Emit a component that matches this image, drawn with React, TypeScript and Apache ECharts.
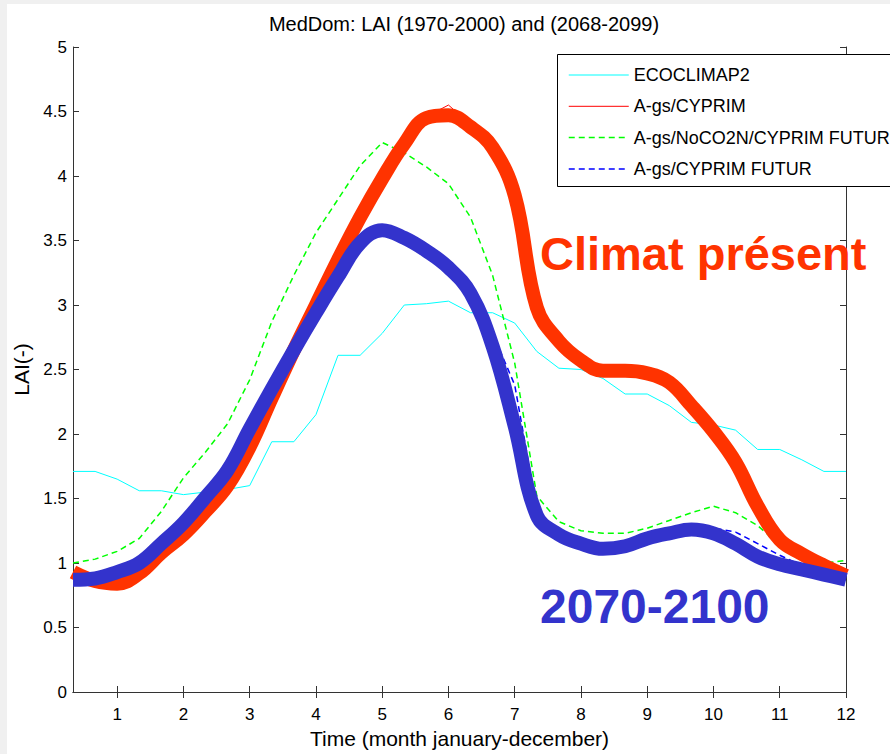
import React, { useEffect, useRef } from "react";
import * as echarts from "echarts";

// Time axis: 36 ten-day periods (month fractions 1/3 ... 12)
const TIME: number[] = Array.from({ length: 36 }, (_, i) => (i + 1) / 3);
const MONTH_TICKS = [1, 2, 3, 4, 5, 6, 7, 8, 9, 10, 11, 12];

const ECOCLIMAP2 = [
  1.71, 1.71, 1.65, 1.56, 1.56, 1.53, 1.55, 1.57, 1.6, 1.94, 1.94, 2.15,
  2.61, 2.61, 2.78, 3.0, 3.01, 3.03, 2.94, 2.94, 2.86, 2.64, 2.51, 2.5,
  2.43, 2.31, 2.31, 2.22, 2.09, 2.07, 2.03, 1.88, 1.88, 1.8, 1.71, 1.71,
];
const AGS_CYPRIM = [
  0.93, 0.86, 0.84, 0.92, 1.08, 1.22, 1.4, 1.6, 1.9, 2.28, 2.65, 3.0,
  3.35, 3.68, 3.98, 4.25, 4.46, 4.55, 4.4, 4.22, 3.85, 2.98, 2.72, 2.57,
  2.49, 2.49, 2.47, 2.4, 2.22, 2.02, 1.78, 1.44, 1.18, 1.07, 0.98, 0.9,
];
const AGS_NOCO2N_FUTUR = [
  1.0, 1.03, 1.09, 1.19, 1.4, 1.66, 1.86, 2.08, 2.42, 2.87, 3.23, 3.56,
  3.82, 4.08, 4.26, 4.18, 4.07, 3.94, 3.68, 3.23, 2.55, 1.52, 1.32, 1.25,
  1.23, 1.23, 1.27, 1.33, 1.39, 1.44, 1.39, 1.29, 1.14, 1.03, 1.0, 1.02,
];
const AGS_CYPRIM_FUTUR = [
  0.87, 0.88, 0.93, 1.0, 1.15, 1.31, 1.51, 1.72, 2.04, 2.35, 2.65, 2.94,
  3.22, 3.48, 3.58, 3.52, 3.42, 3.29, 3.09, 2.78, 2.38, 1.42, 1.22, 1.15,
  1.11, 1.13, 1.19, 1.23, 1.26, 1.27, 1.24, 1.15, 1.06, 0.98, 0.91, 0.87,
];
// Hand-drawn highlight strokes over the two A-gs/CYPRIM runs
const PRESENT_HIGHLIGHT = [
  0.93, 0.86, 0.84, 0.92, 1.08, 1.22, 1.4, 1.6, 1.9, 2.28, 2.65, 3.0,
  3.35, 3.68, 3.98, 4.25, 4.45, 4.47, 4.38, 4.22, 3.85, 2.98, 2.72, 2.57,
  2.49, 2.49, 2.47, 2.4, 2.22, 2.02, 1.78, 1.44, 1.18, 1.07, 0.98, 0.9,
];
const FUTURE_HIGHLIGHT = [
  0.87, 0.88, 0.93, 1.0, 1.15, 1.31, 1.51, 1.72, 2.04, 2.35, 2.65, 2.94,
  3.22, 3.48, 3.58, 3.52, 3.42, 3.29, 3.09, 2.68, 2.06, 1.37, 1.22, 1.15,
  1.11, 1.13, 1.19, 1.23, 1.26, 1.23, 1.15, 1.05, 0.99, 0.95, 0.91, 0.87,
];

const FONT = "'Liberation Sans', Arial, Helvetica, sans-serif";
const pairs = (vals: number[]) => TIME.map((t, i) => [t, vals[i]]);

export default function App() {
  const ref = useRef<HTMLDivElement>(null);
  useEffect(() => {
    document.body.style.margin = "0";
    const chart = echarts.init(ref.current!, null, { renderer: "svg" });
    const axisColor = "#333";
    const tickLen = 6;
    chart.setOption({
      animation: false,
      backgroundColor: "#fff",
      textStyle: { fontFamily: FONT },
      title: {
        text: "MedDom: LAI (1970-2000) and (2068-2099)",
        left: 459,
        textAlign: "center",
        top: 9,
        textStyle: { fontSize: 20, fontWeight: "normal", color: "#000", fontFamily: FONT },
      },
      grid: { left: 73, right: 44, top: 47, bottom: 62, containLabel: false },
      legend: {
        data: ["ECOCLIMAP2", "A-gs/CYPRIM", "A-gs/NoCO2N/CYPRIM FUTUR", "A-gs/CYPRIM FUTUR"],
        orient: "vertical",
        left: 568,
        top: 66,
        padding: 0,
        itemWidth: 60,
        itemHeight: 18,
        itemGap: 13.3,
        z: 6,
        itemStyle: { opacity: 0 },
        lineStyle: { width: "inherit" },
        textStyle: { fontSize: 18, color: "#000", fontFamily: FONT, lineHeight: 18 },
        selectedMode: false,
      },
      xAxis: [
        {
          type: "value",
          min: 1 / 3,
          max: 12,
          splitLine: { show: false },
          axisLine: { lineStyle: { color: axisColor, width: 1 } },
          axisTick: { inside: true, length: tickLen, customValues: MONTH_TICKS, lineStyle: { color: axisColor } },
          axisLabel: {
            customValues: MONTH_TICKS,
            fontSize: 17,
            color: "#000",
            margin: 14,
            fontFamily: FONT,
            formatter: (v: number) => String(Math.round(v)),
          },
          name: "Time (month january-december)",
          nameLocation: "middle",
          nameGap: 36,
          nameTextStyle: { fontSize: 21, color: "#000", fontFamily: FONT },
        },
        {
          type: "value",
          position: "top",
          min: 1 / 3,
          max: 12,
          splitLine: { show: false },
          axisLine: { show: true, lineStyle: { color: axisColor, width: 1 } },
          axisTick: { inside: true, length: tickLen, customValues: MONTH_TICKS, lineStyle: { color: axisColor } },
          axisLabel: { show: false },
        },
      ],
      yAxis: [
        {
          type: "value",
          min: 0,
          max: 5,
          interval: 0.5,
          splitLine: { show: false },
          axisLine: { show: true, lineStyle: { color: axisColor, width: 1 } },
          axisTick: { show: true, inside: true, length: tickLen, lineStyle: { color: axisColor } },
          axisLabel: { fontSize: 17, color: "#000", margin: 6, fontFamily: FONT },
          name: "LAI(-)",
          nameLocation: "middle",
          nameGap: 31,
          nameTextStyle: { fontSize: 21, color: "#000", fontFamily: FONT },
        },
        {
          type: "value",
          position: "right",
          min: 0,
          max: 5,
          interval: 0.5,
          splitLine: { show: false },
          axisLine: { show: true, lineStyle: { color: axisColor, width: 1 } },
          axisTick: { show: true, inside: true, length: tickLen, lineStyle: { color: axisColor } },
          axisLabel: { show: false },
        },
      ],
      series: [
        {
          name: "ECOCLIMAP2",
          type: "line",
          data: pairs(ECOCLIMAP2),
          symbol: "none",
          color: "#00ffff",
          lineStyle: { width: 1, color: "#00ffff" },
          z: 2,
        },
        {
          name: "A-gs/NoCO2N/CYPRIM FUTUR",
          type: "line",
          data: pairs(AGS_NOCO2N_FUTUR),
          symbol: "none",
          color: "#00ff00",
          lineStyle: { width: 1.5, color: "#00ff00", type: [6, 4] },
          z: 2,
        },
        {
          name: "A-gs/CYPRIM",
          type: "line",
          data: pairs(AGS_CYPRIM),
          symbol: "none",
          color: "#ff0000",
          lineStyle: { width: 1, color: "#ff0000" },
          z: 2,
        },
        {
          name: "A-gs/CYPRIM FUTUR",
          type: "line",
          data: pairs(AGS_CYPRIM_FUTUR),
          symbol: "none",
          color: "#0000ff",
          lineStyle: { width: 1.5, color: "#0000ff", type: [6, 4] },
          z: 2,
        },
        {
          name: "present-highlight",
          type: "line",
          data: pairs(PRESENT_HIGHLIGHT),
          symbol: "none",
          smooth: 0.4,
          color: "#ff3300",
          lineStyle: { width: 14, color: "#ff3300" },
          z: 3,
          silent: true,
        },
        {
          name: "future-highlight",
          type: "line",
          data: pairs(FUTURE_HIGHLIGHT),
          symbol: "none",
          smooth: 0.4,
          color: "#3333cc",
          lineStyle: { width: 14, color: "#3333cc" },
          z: 4,
          silent: true,
        },
      ],
      graphic: [
        { type: "rect", shape: { x: 0, y: 0, width: 7, height: 754 }, style: { fill: "#f0f0f0" }, z: 1 },
        { type: "rect", shape: { x: 0, y: 0, width: 890, height: 4 }, style: { fill: "#f0f0f0" }, z: 1 },
        {
          type: "rect",
          shape: { x: 557.5, y: 54.5, width: 400, height: 132 },
          style: { fill: "#fff", stroke: "#000", lineWidth: 1 },
          z: 5,
        },
        {
          type: "text",
          x: 540,
          y: 253,
          z: 10,
          style: {
            text: "Climat présent",
            fill: "#ff3300",
            font: `bold 47px ${FONT}`,
            textAlign: "left",
            textVerticalAlign: "middle",
          },
        },
        {
          type: "text",
          x: 540,
          y: 606,
          z: 10,
          style: {
            text: "2070-2100",
            fill: "#3333cc",
            font: `bold 48px ${FONT}`,
            textAlign: "left",
            textVerticalAlign: "middle",
          },
        },
      ],
    });
    return () => chart.dispose();
  }, []);
  return <div ref={ref} style={{ width: 890, height: 754, position: "absolute", left: 0, top: 0 }} />;
}
